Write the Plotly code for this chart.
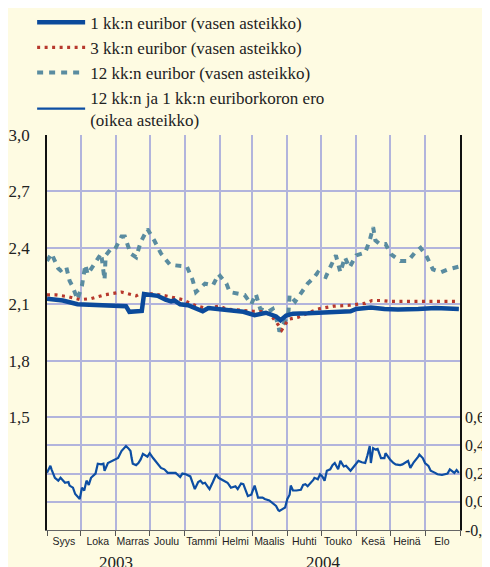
import plotly.graph_objects as go

# ---------------- data ----------------
m1_dates = ["2003-09-01","2003-09-15","2003-09-28","2003-10-16","2003-11-10","2003-11-13","2003-11-21","2003-11-24",
            "2003-11-26","2003-12-08","2003-12-15","2003-12-20","2003-12-23","2003-12-28","2004-01-04","2004-01-13",
            "2004-01-17","2004-01-22","2004-01-29","2004-02-02","2004-02-13","2004-02-22","2004-03-03","2004-03-13",
            "2004-03-22","2004-03-26","2004-03-31","2004-04-06","2004-04-19","2004-05-07","2004-05-27","2004-06-01",
            "2004-06-14","2004-06-26","2004-07-08","2004-07-26","2004-08-10","2004-08-21","2004-08-31"]
m1_vals = [2.13,2.12,2.10,2.095,2.09,2.06,2.06,2.065,2.155,2.145,2.125,2.115,2.12,2.10,2.095,2.075,2.063,2.08,2.075,
           2.075,2.065,2.06,2.042,2.055,2.035,2.015,2.04,2.05,2.052,2.057,2.063,2.075,2.083,2.075,2.072,2.075,2.08,
           2.077,2.075]

m3_dates = ["2003-09-01","2003-09-09","2003-09-20","2003-09-30","2003-10-10","2003-10-22","2003-11-06","2003-11-14",
            "2003-11-19","2003-11-22","2003-12-04","2003-12-15","2003-12-23","2003-12-30","2004-01-06","2004-01-12",
            "2004-01-19","2004-02-01","2004-02-07","2004-02-15","2004-03-02","2004-03-13","2004-03-19","2004-03-24",
            "2004-03-27","2004-04-02","2004-04-10","2004-04-28","2004-05-12","2004-05-26","2004-06-09","2004-06-15",
            "2004-06-23","2004-07-01","2004-07-15","2004-08-31"]
m3_vals = [2.15,2.15,2.14,2.125,2.13,2.15,2.165,2.155,2.145,2.155,2.155,2.145,2.135,2.125,2.105,2.09,2.08,2.09,2.075,
           2.07,2.063,2.06,2.03,1.99,1.963,2.02,2.03,2.075,2.09,2.095,2.105,2.12,2.12,2.115,2.115,2.115]

m12_dates = ["2003-09-01","2003-09-05","2003-09-11","2003-09-13","2003-09-18","2003-09-21","2003-09-24","2003-09-28",
             "2003-10-02","2003-10-05","2003-10-07","2003-10-14","2003-10-19","2003-10-22","2003-10-23","2003-10-27",
             "2003-10-31","2003-11-06","2003-11-09","2003-11-14","2003-11-19","2003-11-23","2003-11-29","2003-12-05",
             "2003-12-11","2003-12-19","2003-12-28","2004-01-03","2004-01-08","2004-01-11","2004-01-19","2004-01-26",
             "2004-01-31","2004-02-07","2004-02-10","2004-02-19","2004-02-23","2004-02-29","2004-03-04","2004-03-08",
             "2004-03-15","2004-03-19","2004-03-24","2004-03-25","2004-03-30","2004-04-02","2004-04-03","2004-04-08",
             "2004-04-15","2004-04-19","2004-04-25","2004-04-28","2004-05-01","2004-05-05","2004-05-10","2004-05-14",
             "2004-05-18","2004-05-22","2004-05-26","2004-06-01","2004-06-09","2004-06-13","2004-06-16","2004-06-18",
             "2004-06-22","2004-06-27","2004-07-02","2004-07-10","2004-07-17","2004-07-23","2004-07-28","2004-08-02",
             "2004-08-08","2004-08-15","2004-08-21","2004-08-28","2004-08-31"]
m12_vals = [2.33,2.37,2.29,2.28,2.30,2.225,2.19,2.125,2.20,2.31,2.26,2.32,2.37,2.23,2.36,2.39,2.39,2.46,2.46,2.37,2.35,
            2.43,2.50,2.44,2.37,2.31,2.305,2.30,2.23,2.165,2.21,2.20,2.26,2.21,2.165,2.155,2.15,2.10,2.155,2.075,2.06,
            2.075,1.99,1.955,2.01,2.06,2.15,2.115,2.175,2.21,2.245,2.27,2.255,2.245,2.31,2.36,2.27,2.35,2.295,2.36,
            2.375,2.44,2.51,2.44,2.42,2.42,2.365,2.33,2.33,2.375,2.40,2.36,2.285,2.27,2.285,2.295,2.30]

diff_dates = ["2003-09-01","2003-09-04","2003-09-05","2003-09-08","2003-09-11","2003-09-13","2003-09-17","2003-09-20",
              "2003-09-21","2003-09-24","2003-09-26","2003-09-28","2003-09-30","2003-10-02","2003-10-04","2003-10-06",
              "2003-10-08","2003-10-10","2003-10-14","2003-10-16","2003-10-19","2003-10-21","2003-10-22","2003-10-25",
              "2003-10-29","2003-10-31","2003-11-03","2003-11-06","2003-11-08","2003-11-10","2003-11-12","2003-11-14",
              "2003-11-15","2003-11-16","2003-11-19","2003-11-21","2003-11-23","2003-11-25","2003-11-29","2003-12-01",
              "2003-12-04","2003-12-06","2003-12-08","2003-12-11","2003-12-14","2003-12-17","2003-12-21","2003-12-24",
              "2003-12-26","2003-12-28","2003-12-30","2004-01-02","2004-01-06","2004-01-08","2004-01-10","2004-01-13",
              "2004-01-15","2004-01-17","2004-01-19","2004-01-22","2004-01-23","2004-01-26","2004-01-29","2004-01-31",
              "2004-02-04","2004-02-07","2004-02-08","2004-02-11","2004-02-15","2004-02-17","2004-02-20","2004-02-22",
              "2004-02-24","2004-02-26","2004-02-29","2004-03-03","2004-03-05","2004-03-06","2004-03-10","2004-03-12",
              "2004-03-16","2004-03-19","2004-03-22","2004-03-24","2004-03-25","2004-03-28","2004-03-30","2004-04-01",
              "2004-04-03","2004-04-04","2004-04-06","2004-04-09","2004-04-13","2004-04-15","2004-04-17","2004-04-19",
              "2004-04-22","2004-04-24","2004-04-25","2004-04-28","2004-04-30","2004-05-02","2004-05-04","2004-05-06",
              "2004-05-09","2004-05-11","2004-05-13","2004-05-16","2004-05-18","2004-05-21","2004-05-23","2004-05-25",
              "2004-05-27","2004-05-30","2004-06-03","2004-06-06","2004-06-09","2004-06-11","2004-06-13","2004-06-14",
              "2004-06-16","2004-06-18","2004-06-20","2004-06-23","2004-06-26","2004-06-27","2004-06-29","2004-07-01",
              "2004-07-04","2004-07-06","2004-07-10","2004-07-12","2004-07-15","2004-07-17","2004-07-19","2004-07-22",
              "2004-07-26","2004-07-27","2004-07-30","2004-08-01","2004-08-04","2004-08-06","2004-08-10","2004-08-12",
              "2004-08-16","2004-08-19","2004-08-21","2004-08-23","2004-08-26","2004-08-27","2004-08-29","2004-08-31"]
diff_vals = [0.205,0.255,0.23,0.17,0.15,0.17,0.135,0.14,0.115,0.10,0.055,0.04,0.02,0.10,0.08,0.15,0.12,0.17,0.20,0.27,
             0.265,0.27,0.22,0.275,0.29,0.30,0.31,0.36,0.38,0.395,0.38,0.36,0.31,0.27,0.26,0.275,0.30,0.34,0.32,0.345,
             0.31,0.29,0.27,0.24,0.23,0.205,0.205,0.205,0.19,0.175,0.20,0.195,0.18,0.14,0.09,0.14,0.15,0.13,0.135,0.10,
             0.09,0.14,0.195,0.17,0.15,0.14,0.135,0.10,0.11,0.09,0.13,0.125,0.08,0.04,0.05,0.115,0.06,0.03,0.03,0.02,
             0.01,-0.01,-0.03,-0.06,-0.065,-0.05,-0.04,0.02,0.05,0.115,0.08,0.08,0.085,0.12,0.125,0.11,0.135,0.155,
             0.17,0.16,0.195,0.18,0.15,0.22,0.23,0.26,0.275,0.23,0.29,0.25,0.255,0.24,0.22,0.25,0.29,0.28,0.275,0.33,
             0.395,0.275,0.38,0.37,0.375,0.31,0.31,0.345,0.32,0.30,0.275,0.265,0.26,0.265,0.28,0.29,0.24,0.28,0.32,
             0.335,0.31,0.275,0.255,0.22,0.205,0.195,0.19,0.195,0.20,0.23,0.215,0.205,0.225,0.205]

month_starts = ["2003-09-01","2003-10-01","2003-11-01","2003-12-01","2004-01-01","2004-02-01","2004-03-01",
                "2004-04-01","2004-05-01","2004-06-01","2004-07-01","2004-08-01","2004-09-01"]
month_mids = ["2003-09-16","2003-10-16","2003-11-16","2003-12-16","2004-01-16","2004-02-15","2004-03-16",
              "2004-04-16","2004-05-16","2004-06-16","2004-07-16","2004-08-16"]
month_names = ["Syys","Loka","Marras","Joulu","Tammi","Helmi","Maalis","Huhti","Touko","Kesä","Heinä","Elo"]
years = ["2003", "2004"]
year_pos = ["2003-11-01", "2004-05-03"]

left_grid = [1.05, 1.2, 1.35, 1.5, 1.8, 2.1, 2.4, 2.7, 3.0]
left_labels = ["", "", "", "1,5", "1,8", "2,1", "2,4", "2,7", "3,0"]
right_ticks = [-0.2, 0.0, 0.2, 0.4, 0.6]
right_labels = ["-0,2", "0,0", "0,2", "0,4", "0,6"]

names = ["1 kk:n euribor (vasen asteikko)", "3 kk:n euribor (vasen asteikko)",
         "12 kk:n euribor (vasen asteikko)", "12 kk:n ja 1 kk:n euriborkoron ero<br>(oikea asteikko)"]

# ---------------- styling ----------------
BG = "#fefbe2"
GRID = "#b2b4dc"
SERIF = "Liberation Serif, Times New Roman, serif"
NARROW = "Liberation Sans, Arial, sans-serif"

fig = go.Figure()
fig.add_trace(go.Scatter(x=m12_dates, y=m12_vals, name=names[2], mode="lines", legendrank=3,
                         line=dict(color="#5a8ca0", width=4, dash="6px,6px")))
fig.add_trace(go.Scatter(x=m3_dates, y=m3_vals, name=names[1], mode="lines", legendrank=2,
                         line=dict(color="#b7382c", width=3.2, dash="3px,4.5px")))
fig.add_trace(go.Scatter(x=m1_dates, y=m1_vals, name=names[0], mode="lines", legendrank=1,
                         line=dict(color="#0b4a9b", width=4.5)))
fig.add_trace(go.Scatter(x=diff_dates, y=diff_vals, name=names[3], mode="lines", legendrank=4, yaxis="y2",
                         line=dict(color="#0d4ea3", width=2.2)))
# helper (invisible) trace carrying the month-name axis
fig.add_trace(go.Scatter(x=[month_starts[0], month_starts[-1]], y=[None, None], xaxis="x2", showlegend=False,
                         hoverinfo="skip", mode="lines"))

for yr, pos in zip(years, year_pos):
    fig.add_annotation(x=pos, y=-0.082, xref="x", yref="paper", text=yr, showarrow=False,
                       font=dict(family=SERIF, size=17, color="#222"), yanchor="middle", borderpad=0)

fig.update_layout(
    width=490, height=567,
    margin=dict(l=39, r=38, t=127, b=45, autoexpand=False),
    paper_bgcolor=BG, plot_bgcolor=BG,
    showlegend=True,
    legend=dict(x=-0.036, y=1.33, xanchor="left", yanchor="top",
                bgcolor="rgba(0,0,0,0)", font=dict(family=SERIF, size=17, color="#222"),
                tracegroupgap=0, itemwidth=48),
    xaxis=dict(type="date", range=[month_starts[0], month_starts[-1]], tickmode="array", tickvals=month_starts,
               ticktext=[""] * len(month_starts), showgrid=True, gridcolor=GRID, gridwidth=1.6,
               showline=True, linecolor="#666", linewidth=1.2, ticks="outside", ticklen=5, tickcolor="#555",
               zeroline=False, automargin=False),
    xaxis2=dict(type="date", overlaying="x", side="bottom", range=[month_starts[0], month_starts[-1]],
                tickmode="array", tickvals=month_mids, ticktext=month_names, showgrid=False, ticks="",
                showline=False,
                tickfont=dict(family=NARROW, size=10.5, color="#222"),
                ticklabelstandoff=3, zeroline=False, automargin=False, tickangle=0),
    yaxis=dict(range=[0.9, 3.0], tickmode="array", tickvals=left_grid, ticktext=left_labels,
               showgrid=True, gridcolor=GRID, gridwidth=1.6, showline=True, linecolor="#111", linewidth=1.5,
               ticks="", tickfont=dict(family=SERIF, size=17, color="#222"), ticklabelstandoff=12, zeroline=False,
               automargin=False),
    yaxis2=dict(range=[-0.2, 2.6], overlaying="y", side="right", tickmode="array", tickvals=right_ticks,
                ticktext=right_labels, showgrid=False, showline=True, linecolor="#111", linewidth=1.5, ticks="",
                tickfont=dict(family=SERIF, size=16, color="#222"), ticklabelstandoff=0, zeroline=False,
                automargin=False),
)

fig.write_html("out.html")
